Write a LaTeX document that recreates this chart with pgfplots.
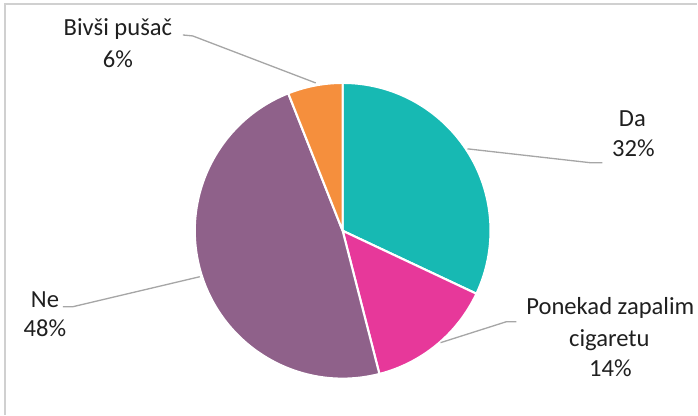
\documentclass[border=0pt]{standalone}
\usepackage{pgfplots}
\pgfplotsset{compat=1.18}
\usepackage{pgfplotstable}
\usepackage{fontspec}
\setmainfont{Carlito}

\definecolor{cDa}{HTML}{17B9B3}
\definecolor{cPon}{HTML}{E7389A}
\definecolor{cNe}{HTML}{8F618A}
\definecolor{cBiv}{HTML}{F58F3D}
\definecolor{lead}{HTML}{A6A6A6}
\definecolor{frame}{HTML}{D0D0D0}

% share of each answer, in percent
\pgfplotstableread{
label value
Da 32
Ponekad 14
Ne 48
Bivsi 6
}\piedata

\begin{document}
\begin{tikzpicture}
\pgfplotstablegetelem{0}{value}\of\piedata \let\vA\pgfplotsretval
\pgfplotstablegetelem{1}{value}\of\piedata \let\vB\pgfplotsretval
\pgfplotstablegetelem{2}{value}\of\piedata \let\vC\pgfplotsretval
\pgfplotstablegetelem{3}{value}\of\piedata \let\vD\pgfplotsretval
% slice boundaries, clockwise from 12 o'clock
\pgfmathsetmacro\aA{90}
\pgfmathsetmacro\aB{\aA-3.6*\vA}
\pgfmathsetmacro\aC{\aB-3.6*\vB}
\pgfmathsetmacro\aD{\aC-3.6*\vC}
\pgfmathsetmacro\aE{\aD-3.6*\vD}
\def\R{2.96cm}
\begin{axis}[
    scale only axis,
    width=13.96cm, height=8.3cm,
    xmin=0, xmax=698, ymin=0, ymax=415,
    hide axis, clip=false,
]
\path (axis cs:0,0) rectangle (axis cs:698,415);
\draw[frame, line width=0.8pt] (axis cs:5,0) -- (axis cs:5,411) -- (axis cs:698,411);

\filldraw[fill=cDa, draw=white, line width=1.2pt, line join=round]
    (axis cs:343,184) -- ++(\aA:\R) arc[start angle=\aA, end angle=\aB, radius=\R] -- cycle;
\filldraw[fill=cPon, draw=white, line width=1.2pt, line join=round]
    (axis cs:343,184) -- ++(\aB:\R) arc[start angle=\aB, end angle=\aC, radius=\R] -- cycle;
\filldraw[fill=cNe, draw=white, line width=1.2pt, line join=round]
    (axis cs:343,184) -- ++(\aC:\R) arc[start angle=\aC, end angle=\aD, radius=\R] -- cycle;
\filldraw[fill=cBiv, draw=white, line width=1.2pt, line join=round]
    (axis cs:343,184) -- ++(\aD:\R) arc[start angle=\aD, end angle=\aE, radius=\R] -- cycle;

% leader lines
\draw[lead, line width=0.75pt] (axis cs:183,380) -- (axis cs:193,379) -- (axis cs:316,332);
\draw[lead, line width=0.75pt] (axis cs:468,266) -- (axis cs:592,252) -- (axis cs:603,252);
\draw[lead, line width=0.75pt] (axis cs:441,72) -- (axis cs:507,93) -- (axis cs:517,93);
\draw[lead, line width=0.75pt] (axis cs:63,108) -- (axis cs:73,108) -- (axis cs:200,138);

% data labels
\tikzset{lab/.style={anchor=base, inner sep=0pt, text=black!88, font=\fontsize{14}{16}\selectfont}}
\node[lab] at (axis cs:118,379) {Bivši pušač};
\node[lab] at (axis cs:118,347) {6\%};
\node[lab] at (axis cs:633,288) {Da};
\node[lab] at (axis cs:634,258) {32\%};
\node[lab] at (axis cs:611,100) {Ponekad zapalim};
\node[lab] at (axis cs:610,68) {cigaretu};
\node[lab] at (axis cs:611,38) {14\%};
\node[lab] at (axis cs:45,107) {Ne};
\node[lab] at (axis cs:45,78) {48\%};
\end{axis}
\end{tikzpicture}
\end{document}
